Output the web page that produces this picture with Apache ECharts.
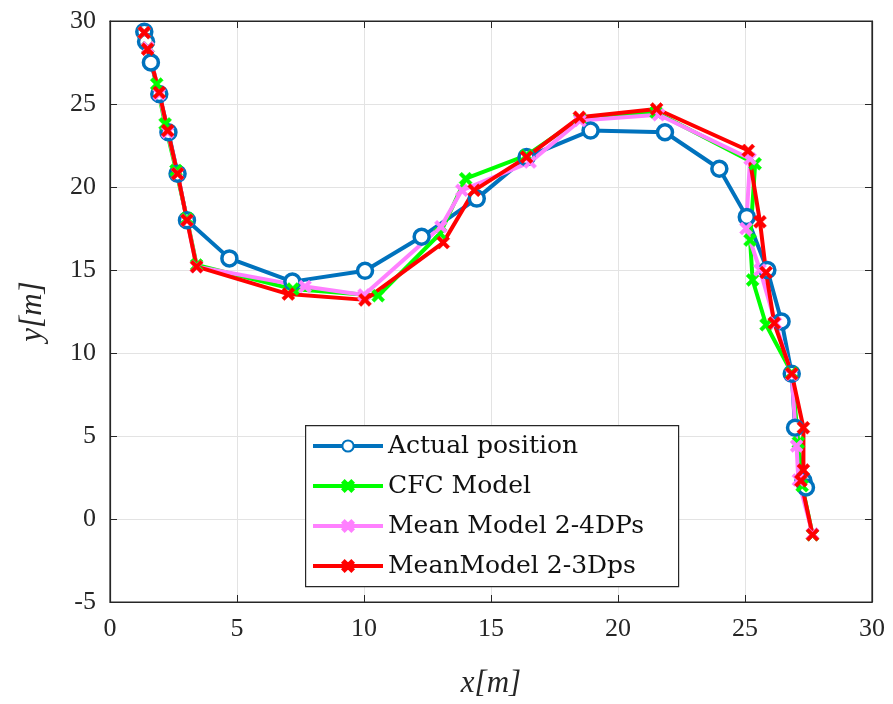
<!DOCTYPE html>
<html><head><meta charset="utf-8">
<script src="https://cdn.jsdelivr.net/npm/echarts@6/dist/echarts.min.js"></script>
<style>html,body{margin:0;padding:0;background:#fff}#c{width:893px;height:704px}</style>
</head><body><div id="c"></div>
<script>
const seriesNames = ['Actual position', 'CFC Model', 'Mean Model 2-4DPs', 'MeanModel 2-3Dps'];
const xTicks = [0, 5, 10, 15, 20, 25, 30];
const yTicks = [-5, 0, 5, 10, 15, 20, 25, 30];
const actual = [[1.35,29.35],[1.42,28.75],[1.61,27.5],[1.94,25.6],[2.30,23.3],[2.66,20.8],[3.03,18.0],[4.70,15.7],[7.18,14.3],[10.04,14.95],[12.27,17.0],[14.44,19.3],[16.4,21.8],[18.92,23.4],[21.85,23.3],[23.99,21.1],[25.07,18.2],[25.88,15.0],[26.44,11.9],[26.84,8.75],[26.97,5.5],[27.3,2.3],[27.4,1.9]];
const cfc = [[1.35,29.3],[1.5,28.4],[1.84,26.2],[2.17,23.8],[2.6,21.0],[3.03,18.1],[3.41,15.3],[7.2,13.85],[10.56,13.45],[13.0,17.2],[14.0,20.5],[16.4,21.9],[18.5,24.1],[21.5,24.5],[25.4,21.4],[25.2,16.8],[25.3,14.4],[25.83,11.7],[26.84,8.8],[27.1,4.6],[27.25,2.0],[27.66,-0.95]];
const mean24 = [[1.35,29.3],[1.5,28.4],[1.94,25.6],[2.27,23.3],[2.66,20.8],[3.03,18.0],[3.41,15.2],[7.68,14.0],[10.0,13.5],[13.03,17.6],[13.85,19.8],[16.54,21.5],[18.5,24.0],[21.6,24.35],[25.2,21.7],[25.04,17.5],[25.59,15.0],[26.2,11.8],[26.84,8.7],[27.03,4.4],[27.1,2.35],[27.66,-0.9]];
const mean23 = [[1.35,29.3],[1.48,28.3],[1.94,25.7],[2.27,23.4],[2.66,20.8],[3.03,18.0],[3.41,15.2],[7.02,13.55],[10.04,13.2],[13.12,16.65],[14.34,19.8],[16.4,21.8],[18.48,24.2],[21.52,24.7],[25.13,22.2],[25.59,17.9],[25.83,14.85],[26.15,11.8],[26.84,8.75],[27.3,5.5],[27.3,2.95],[27.2,2.3],[27.66,-0.95]];

const colors = ['#0072BD', '#00FF00', '#FF80FF', '#FF0000'];
const xMark = 'path://M0,2L2,0L5,3L8,0L10,2L7,5L10,8L8,10L5,7L2,10L0,8L3,5Z';
const font = '"Liberation Serif","DejaVu Serif",serif';
const legendFont = '"DejaVu Serif","Liberation Serif",serif';

const chart = echarts.init(document.getElementById('c'));
function mk(name, data, color, symbol, size) {
  return {
    name, type: 'line', data, xAxisIndex: 0, yAxisIndex: 0,
    symbol, symbolSize: size, showAllSymbol: true,
    lineStyle: {color, width: 4},
    itemStyle: symbol === 'circle' ? {color: '#fff', borderColor: color, borderWidth: 3.5} : {color, borderColor: color, borderWidth: 0.5},
    color, animation: false, z: 2
  };
}
chart.setOption({
  animation: false,
  backgroundColor: '#fff',
  grid: {left: 110, right: 21, top: 21, bottom: 102, show: true, borderColor: '#262626', borderWidth: 1.2},
  xAxis: [{
    type: 'value', min: 0, max: 30, interval: 5, position: 'bottom',
    axisLine: {show: true, onZero: false, lineStyle: {color: '#262626', width: 1.2}},
    axisTick: {show: true, inside: true, length: 7, lineStyle: {color: '#262626'}},
    axisLabel: {color: '#262626', fontFamily: font, fontSize: 26, margin: 14},
    splitLine: {show: true, lineStyle: {color: '#e3e3e3', width: 1}},
    name: 'x[m]', nameLocation: 'middle', nameGap: 66,
    nameTextStyle: {fontFamily: font, fontSize: 31, fontStyle: 'italic', color: '#262626'}
  }, {
    type: 'value', min: 0, max: 30, interval: 5, position: 'top',
    axisLine: {show: true, onZero: false, lineStyle: {color: '#262626', width: 1.2}},
    axisTick: {show: true, inside: true, length: 7, lineStyle: {color: '#262626'}},
    axisLabel: {show: false}, splitLine: {show: false}
  }],
  yAxis: [{
    type: 'value', min: -5, max: 30, interval: 5, position: 'left',
    axisLine: {show: true, onZero: false, lineStyle: {color: '#262626', width: 1.2}},
    axisTick: {show: true, inside: true, length: 7, lineStyle: {color: '#262626'}},
    axisLabel: {color: '#262626', fontFamily: font, fontSize: 26, margin: 14},
    splitLine: {show: true, lineStyle: {color: '#e3e3e3', width: 1}},
    name: 'y[m]', nameLocation: 'middle', nameGap: 62, nameRotate: 90,
    nameTextStyle: {fontFamily: font, fontSize: 31, fontStyle: 'italic', color: '#262626'}
  }, {
    type: 'value', min: -5, max: 30, interval: 5, position: 'right',
    axisLine: {show: true, onZero: false, lineStyle: {color: '#262626', width: 1.2}},
    axisTick: {show: true, inside: true, length: 7, lineStyle: {color: '#262626'}},
    axisLabel: {show: false}, splitLine: {show: false}
  }],
  graphic: [{
    type: 'rect', left: 305, top: 425, z: 5,
    shape: {width: 373, height: 161},
    style: {fill: '#fff', stroke: '#262626', lineWidth: 1.2}
  }],
  legend: {
    orient: 'vertical', left: 305, top: 425, z: 10,
    padding: [6, 6, 6, 6], itemGap: 10, itemWidth: 70, itemHeight: 14,
    lineStyle: {width: 4},
    textStyle: {fontFamily: legendFont, fontSize: 25, color: '#111', lineHeight: 30},
    data: seriesNames
  },
  series: [
    mk(seriesNames[0], actual, colors[0], 'circle', 15),
    mk(seriesNames[1], cfc, colors[1], xMark, 13),
    mk(seriesNames[2], mean24, colors[2], xMark, 13),
    mk(seriesNames[3], mean23, colors[3], xMark, 13)
  ]
});
</script></body></html>
